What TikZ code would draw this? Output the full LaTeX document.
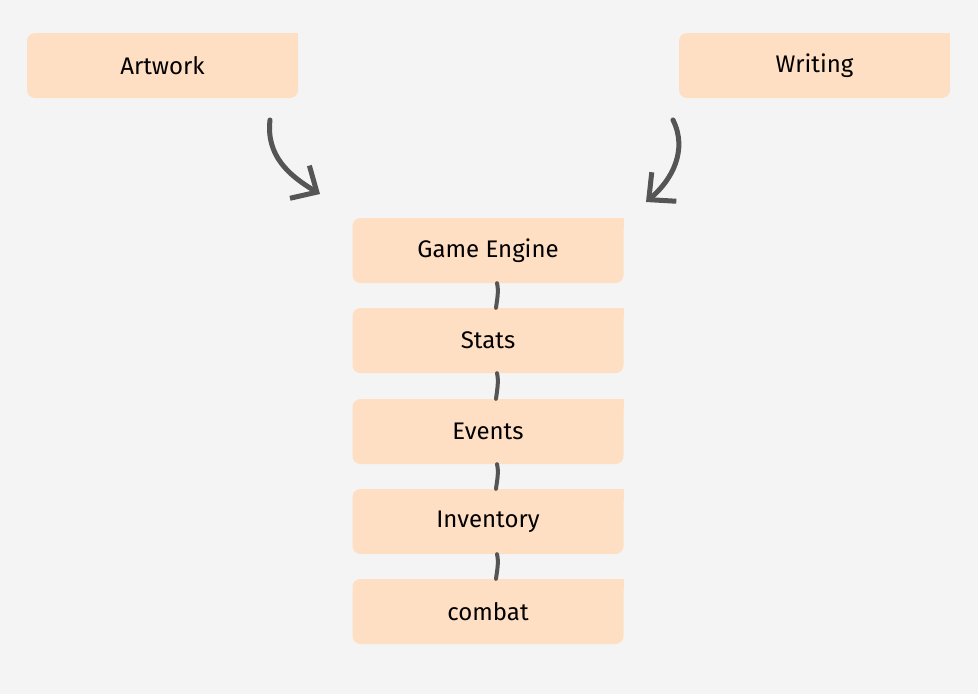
\documentclass[tikz,border=0pt]{standalone}
\usepackage{fontspec}
\setmainfont{Fira Sans}
\usetikzlibrary{arrows.meta}
\definecolor{bgc}{HTML}{F4F4F4}
\definecolor{boxc}{HTML}{FFDFC3}
\definecolor{linec}{HTML}{555555}
\begin{document}
\begin{tikzpicture}[x=1pt,y=-1pt,
  box/.style={fill=boxc,rounded corners=8pt,minimum width=271pt,minimum height=65pt,
    inner sep=0pt,font=\fontsize{24}{28}\selectfont,text=black},
  link/.style={draw=linec,line width=4pt,line cap=round},
  arr/.style={draw=linec,line width=5pt,line cap=round,line join=round,
    -{Straight Barb[length=20pt,width=38pt,line width=5pt]}}]
\fill[bgc] (0,0) rectangle (978,694);
\useasboundingbox (0,0) rectangle (978,694);
\node[box] (aw) at (162.5,65.5) {Artwork};
\node[box] (wr) at (814.5,65.5) {Writing};
\node[box] (ge) at (488,250.5) {Game Engine};
\node[box] (st) at (488,340.5) {Stats};
\node[box] (ev) at (488,431.5) {Events};
\node[box] (in) at (488,521.5) {Inventory};
\node[box] (co) at (488,611.5) {combat};
\foreach \n in {aw,wr,ge,st,ev,in,co}
  \fill[boxc] (\n.north east) rectangle ++(-10,10);
\coordinate (a1) at (270,120);
\coordinate (a2) at (320,194);
\coordinate (b1) at (673,120);
\coordinate (b2) at (646,202);
\draw[arr] (a1) .. controls (266,155) and (288,175) .. (a2);
\draw[arr] (b1) .. controls (688,150) and (672,180) .. (b2);
\foreach \u/\l in {ge/st,st/ev,ev/in,in/co}
  \draw[link] ([xshift=9pt]\u.south) .. controls ([xshift=11pt,yshift=-8pt]\u.south) and ([xshift=9pt,yshift=8pt]\l.north) .. ([xshift=8pt]\l.north);
\end{tikzpicture}
\end{document}
